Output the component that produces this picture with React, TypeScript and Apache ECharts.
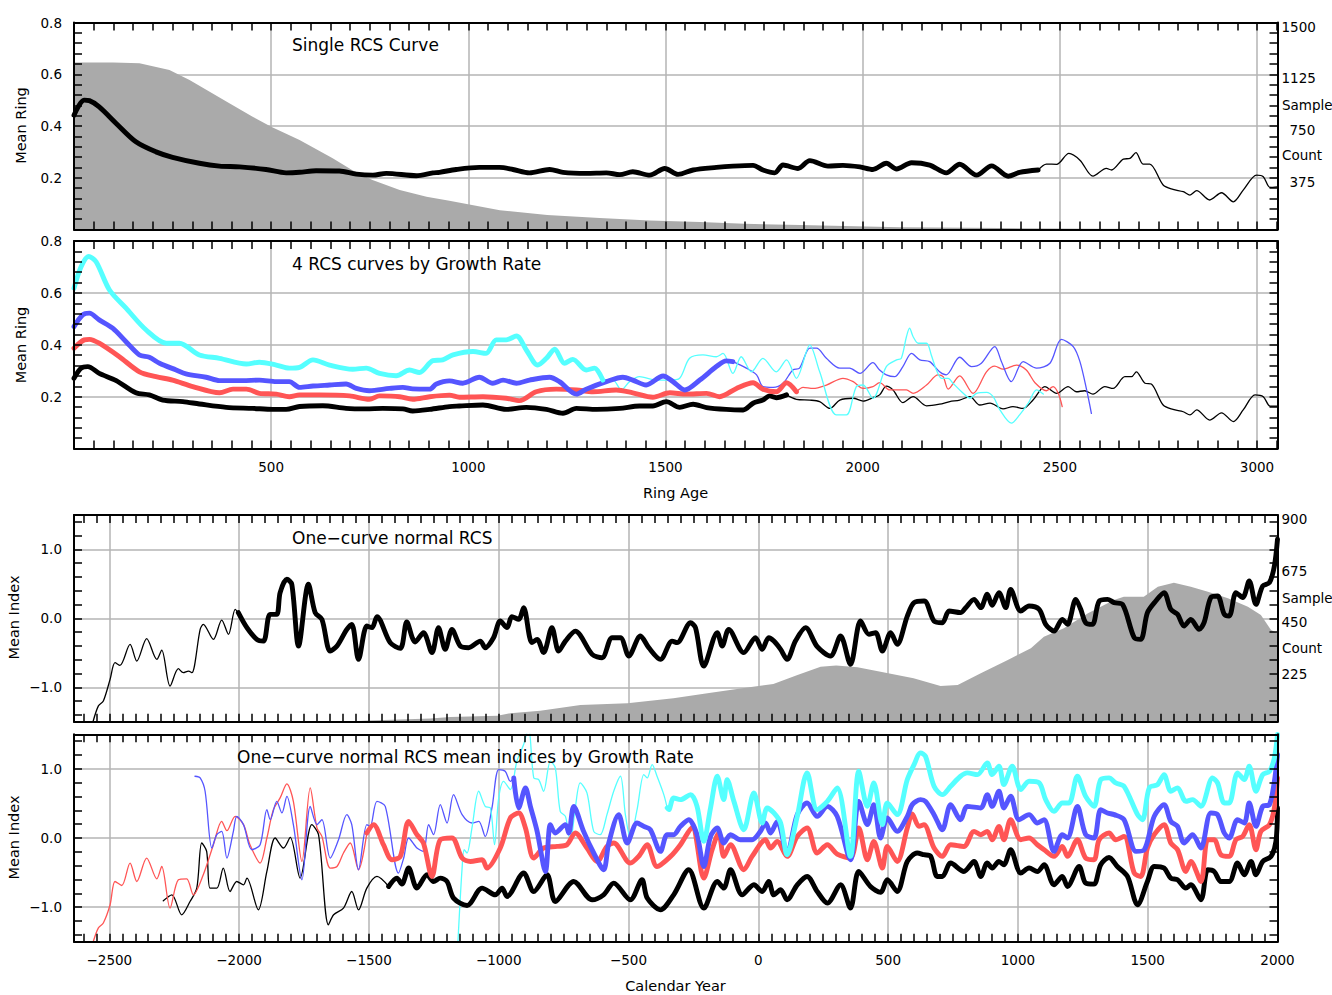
import React, { useEffect, useRef } from 'react';
import * as echarts from 'echarts';

// ---------- axes ----------
const AGE_MAX = 3052;
const YEAR_MIN = -2636;
const YEAR_MAX = 2000;

const ringAgeLabels = [500, 1000, 1500, 2000, 2500, 3000];
const calendarLabels = [-2500, -2000, -1500, -1000, -500, 0, 500, 1000, 1500, 2000];
const meanRingLabels = [0.2, 0.4, 0.6, 0.8];
const meanIndexLabels = [-1, 0, 1];
const ringSampleLabels = [375, 750, 1125, 1500];
const yearSampleLabels = [225, 450, 675, 900];

// ---------- panel 1: single RCS curve (ring age, mean ring) ----------
const ringSampleCount = [[0,1211],[100,1210],[166,1204],[242,1156],[293,1083],[394,914],[453,817],[500,745],[572,648],[656,517],[706,430],[757,358],[826,286],[894,237],[952,208],[1080,140],[1200,105],[1333,83],[1460,66],[1587,54],[1700,42],[1841,32],[2094,17],[2348,10],[2600,6],[2800,4],[3052,2]];

const singleCurveMain = [[0,0.442],[26,0.50],[39,0.498],[64,0.474],[107,0.41],[157,0.339],[208,0.30],[250,0.279],[318,0.256],[369,0.245],[420,0.242],[487,0.232],[538,0.219],[572,0.221],[614,0.227],[673,0.226],[716,0.214],[758,0.210],[792,0.217],[868,0.208],[910,0.219],[927,0.221],[969,0.232],[1028,0.240],[1079,0.240],[1113,0.232],[1155,0.219],[1206,0.232],[1240,0.221],[1299,0.217],[1350,0.219],[1384,0.212],[1417,0.223],[1460,0.210],[1498,0.236],[1532,0.213],[1570,0.230],[1629,0.240],[1671,0.245],[1722,0.248],[1747,0.230],[1777,0.219],[1798,0.249],[1836,0.236],[1866,0.266],[1912,0.245],[1950,0.248],[1993,0.242],[2026,0.232],[2060,0.256],[2086,0.234],[2124,0.258],[2170,0.249],[2212,0.219],[2246,0.252],[2289,0.210],[2327,0.246],[2369,0.206],[2398,0.221],[2445,0.230]];
const singleCurveTail = [[2445,0.230],[2466,0.253],[2492,0.252],[2523,0.294],[2551,0.268],[2584,0.206],[2618,0.236],[2631,0.230],[2661,0.272],[2678,0.275],[2693,0.297],[2711,0.253],[2728,0.253],[2762,0.172],[2787,0.155],[2813,0.146],[2830,0.133],[2847,0.150],[2880,0.114],[2910,0.142],[2940,0.107],[2965,0.152],[2999,0.210],[3016,0.204],[3033,0.163],[3052,0.165]];

// ---------- panel 2: four RCS curves by growth rate ----------
const fastMain = [[0,0.618],[18,0.701],[37,0.740],[56,0.720],[90,0.611],[132,0.541],[183,0.457],[234,0.406],[267,0.406],[318,0.361],[369,0.348],[437,0.326],[470,0.333],[513,0.322],[546,0.310],[572,0.313],[606,0.342],[648,0.322],[707,0.306],[741,0.310],[775,0.290],[817,0.281],[851,0.303],[876,0.293],[910,0.339],[935,0.342],[961,0.361],[1012,0.374],[1045,0.367],[1071,0.419],[1096,0.419],[1122,0.434],[1147,0.380],[1176,0.322],[1198,0.348],[1219,0.383],[1244,0.329],[1265,0.344],[1299,0.303],[1320,0.310],[1341,0.264]];
const fastTail = [[1341,0.264],[1367,0.264],[1388,0.226],[1409,0.258],[1434,0.277],[1477,0.264],[1511,0.264],[1536,0.271],[1561,0.348],[1595,0.361],[1629,0.354],[1646,0.367],[1671,0.290],[1692,0.354],[1718,0.296],[1747,0.348],[1781,0.296],[1807,0.342],[1832,0.271],[1866,0.399],[1891,0.296],[1933,0.130],[1959,0.130],[1984,0.239],[2001,0.245],[2026,0.194],[2060,0.316],[2086,0.342],[2098,0.348],[2111,0.431],[2119,0.464],[2128,0.431],[2141,0.406],[2162,0.406],[2174,0.361],[2187,0.303],[2200,0.271],[2217,0.271],[2229,0.252],[2255,0.213],[2272,0.194],[2289,0.213],[2314,0.217],[2331,0.200],[2348,0.149],[2377,0.098],[2398,0.130],[2420,0.175],[2441,0.226],[2458,0.210]];

const upperMain = [[0,0.470],[22,0.515],[39,0.522],[64,0.496],[98,0.464],[132,0.412],[166,0.361],[191,0.352],[217,0.329],[259,0.303],[284,0.288],[335,0.275],[369,0.262],[428,0.262],[470,0.264],[513,0.258],[546,0.258],[572,0.236],[606,0.241],[648,0.245],[690,0.249],[716,0.232],[749,0.223],[800,0.232],[834,0.236],[859,0.230],[902,0.229],[919,0.249],[952,0.261],[986,0.252],[1028,0.275],[1062,0.252],[1088,0.264],[1122,0.252],[1155,0.264],[1206,0.275],[1231,0.258],[1274,0.210],[1299,0.229],[1350,0.258],[1392,0.275],[1417,0.264],[1451,0.245],[1494,0.280],[1519,0.258],[1549,0.226],[1587,0.264],[1629,0.316],[1654,0.338],[1671,0.335]];
const upperTail = [[1671,0.335],[1705,0.310],[1731,0.284],[1747,0.239],[1773,0.236],[1798,0.252],[1823,0.303],[1840,0.310],[1866,0.387],[1883,0.387],[1908,0.348],[1942,0.310],[1967,0.310],[1993,0.290],[2026,0.331],[2043,0.303],[2060,0.284],[2081,0.277],[2102,0.316],[2124,0.367],[2145,0.342],[2170,0.335],[2195,0.296],[2212,0.284],[2246,0.352],[2276,0.316],[2301,0.329],[2335,0.393],[2352,0.335],[2377,0.258],[2407,0.335],[2441,0.310],[2475,0.329],[2504,0.421],[2534,0.393],[2551,0.335],[2568,0.226],[2580,0.136]];

const lowerMain = [[0,0.387],[26,0.419],[39,0.421],[64,0.406],[115,0.354],[166,0.296],[208,0.277],[250,0.264],[301,0.239],[369,0.215],[403,0.229],[437,0.229],[470,0.213],[513,0.210],[546,0.200],[572,0.207],[623,0.207],[699,0.203],[749,0.190],[775,0.203],[826,0.200],[859,0.190],[902,0.200],[952,0.206],[977,0.198],[1037,0.200],[1096,0.194],[1130,0.185],[1172,0.219],[1223,0.229],[1274,0.226],[1316,0.219],[1375,0.226],[1417,0.215],[1468,0.198],[1511,0.215],[1553,0.210],[1604,0.213],[1637,0.200],[1680,0.232],[1722,0.254],[1747,0.229],[1781,0.219],[1807,0.254],[1832,0.219]];
const lowerTail = [[1832,0.219],[1849,0.236],[1874,0.232],[1908,0.245],[1950,0.271],[1976,0.258],[2001,0.232],[2026,0.239],[2043,0.254],[2069,0.226],[2111,0.226],[2128,0.213],[2162,0.245],[2191,0.284],[2204,0.277],[2217,0.229],[2246,0.280],[2280,0.213],[2314,0.296],[2335,0.318],[2356,0.306],[2390,0.322],[2415,0.303],[2437,0.254],[2466,0.223],[2483,0.239],[2496,0.213],[2506,0.162]];

const slowMain = [[0,0.271],[18,0.310],[35,0.316],[64,0.290],[107,0.262],[157,0.215],[191,0.207],[225,0.187],[276,0.181],[318,0.172],[386,0.159],[453,0.155],[504,0.151],[538,0.151],[572,0.162],[631,0.165],[690,0.155],[741,0.153],[783,0.155],[834,0.153],[859,0.145],[902,0.151],[952,0.162],[977,0.164],[1037,0.168],[1096,0.151],[1147,0.159],[1198,0.151],[1240,0.136],[1274,0.155],[1325,0.151],[1384,0.155],[1434,0.164],[1468,0.164],[1502,0.181],[1536,0.159],[1570,0.171],[1604,0.158],[1654,0.151],[1697,0.149],[1722,0.175],[1747,0.187],[1764,0.203],[1781,0.196],[1807,0.207]];
const slowTail = [[1807,0.207],[1832,0.190],[1866,0.187],[1891,0.181],[1917,0.155],[1942,0.187],[1976,0.194],[2001,0.183],[2026,0.196],[2043,0.207],[2060,0.241],[2077,0.226],[2102,0.177],[2128,0.200],[2162,0.165],[2195,0.171],[2221,0.181],[2246,0.187],[2272,0.200],[2297,0.168],[2323,0.175],[2356,0.153],[2381,0.162],[2407,0.155],[2432,0.187],[2462,0.239],[2492,0.213],[2521,0.239],[2542,0.219],[2563,0.223],[2584,0.210],[2614,0.239],[2635,0.232],[2665,0.277],[2682,0.277],[2694,0.296],[2716,0.252],[2732,0.249],[2762,0.168],[2787,0.151],[2813,0.142],[2830,0.130],[2847,0.149],[2880,0.110],[2910,0.138],[2940,0.104],[2965,0.149],[2995,0.207],[3016,0.200],[3033,0.164],[3052,0.164]];

// ---------- panel 3: one-curve RCS chronology (calendar year, index) ----------
const yearSampleCount = [[-1600,0],[-1500,5],[-1380,10],[-1263,14],[-1187,20],[-1005,26],[-955,37],[-840,48],[-685,73],[-504,80],[-327,102],[-196,124],[-69,145],[58,164],[151,203],[240,239],[300,245],[382,237],[471,218],[598,189],[702,155],[768,160],[857,211],[961,269],[1050,320],[1100,370],[1177,407],[1270,472],[1370,530],[1408,544],[1485,544],[1539,588],[1601,605],[1666,588],[1732,566],[1809,537],[1886,501],[1936,465],[1975,399],[2000,385]];

const chronoEarly = [[-2562,-1.49],[-2542,-1.27],[-2523,-1.20],[-2497,-0.886],[-2478,-0.644],[-2459,-0.683],[-2420,-0.378],[-2394,-0.620],[-2356,-0.295],[-2317,-0.596],[-2298,-0.460],[-2266,-0.983],[-2234,-0.731],[-2215,-0.789],[-2195,-0.765],[-2182,-0.789],[-2150,-0.160],[-2138,-0.087],[-2099,-0.305],[-2067,-0.025],[-2041,-0.232],[-2015,0.131],[-2003,0.083]];
const chronoMain = [[-2003,0.083],[-1970,-0.135],[-1932,-0.305],[-1906,-0.330],[-1881,0.058],[-1855,0.058],[-1842,0.373],[-1816,0.567],[-1797,0.494],[-1771,-0.402],[-1733,0.494],[-1707,0.083],[-1681,-0.015],[-1649,-0.475],[-1623,-0.402],[-1585,-0.160],[-1566,-0.087],[-1540,-0.596],[-1508,-0.112],[-1488,-0.135],[-1469,0.025],[-1418,-0.353],[-1379,-0.436],[-1354,-0.054],[-1322,-0.344],[-1290,-0.208],[-1257,-0.498],[-1232,-0.135],[-1206,-0.450],[-1180,-0.160],[-1148,-0.402],[-1116,-0.426],[-1071,-0.330],[-1052,-0.426],[-1020,-0.281],[-994,-0.039],[-968,-0.135],[-949,0.025],[-923,-0.015],[-904,0.155],[-872,-0.353],[-852,-0.305],[-827,-0.498],[-795,-0.135],[-769,-0.475],[-743,-0.330],[-705,-0.185],[-640,-0.523],[-602,-0.571],[-563,-0.281],[-531,-0.281],[-499,-0.547],[-454,-0.257],[-422,-0.426],[-377,-0.596],[-332,-0.330],[-313,-0.353],[-261,-0.063],[-242,-0.135],[-210,-0.692],[-158,-0.208],[-139,-0.402],[-114,-0.160],[-56,-0.498],[-11,-0.281],[15,-0.450],[40,-0.281],[60,-0.330],[86,-0.450],[111,-0.596],[143,-0.330],[182,-0.135],[227,-0.411],[278,-0.547],[317,-0.257],[355,-0.668],[394,-0.039],[426,-0.232],[452,-0.208],[478,-0.475],[510,-0.208],[535,-0.378],[574,0.033],[600,0.228],[639,0.251],[677,-0.039],[709,-0.063],[735,0.106],[779,0.083],[799,0.155],[831,0.276],[857,0.155],[882,0.349],[901,0.189],[927,0.373],[953,0.155],[972,0.421],[1011,0.106],[1043,0.179],[1082,0.131],[1107,-0.087],[1139,-0.185],[1171,-0.015],[1191,-0.087],[1223,0.276],[1242,0.131],[1261,-0.063],[1287,-0.087],[1313,0.251],[1345,0.276],[1371,0.228],[1403,0.203],[1448,-0.281],[1473,-0.305],[1499,0.083],[1531,0.251],[1563,0.373],[1589,0.131],[1615,0.058],[1640,-0.112],[1666,-0.015],[1698,-0.160],[1717,-0.063],[1743,0.301],[1769,0.324],[1795,0.058],[1814,0.033],[1840,0.373],[1866,0.301],[1891,0.542],[1917,0.203],[1943,0.469],[1969,0.519],[1988,0.760],[2000,1.148]];

// ---------- panel 4: one-curve RCS indices by growth rate ----------
const slowIdxEarly = [[-2292,-0.909],[-2259,-0.822],[-2221,-1.111],[-2189,-0.919],[-2163,-0.725],[-2144,-0.072],[-2125,-0.194],[-2112,-0.725],[-2086,-0.725],[-2061,-0.435],[-2035,-0.774],[-2009,-0.629],[-1983,-0.677],[-1970,-0.580],[-1926,-1.039],[-1893,-0.484],[-1861,0.0],[-1829,-0.145],[-1803,0.009],[-1765,-0.580],[-1720,0.193],[-1694,0.048],[-1656,-1.256],[-1636,-1.111],[-1598,-1.014],[-1566,-0.774],[-1540,-1.039],[-1508,-0.725],[-1469,-0.556],[-1424,-0.701]];
const slowIdxMain = [[-1424,-0.701],[-1392,-0.580],[-1373,-0.667],[-1347,-0.435],[-1315,-0.725],[-1276,-0.532],[-1251,-0.629],[-1225,-0.580],[-1199,-0.629],[-1174,-0.869],[-1122,-0.977],[-1064,-0.725],[-1013,-0.822],[-987,-0.725],[-968,-0.846],[-904,-0.507],[-865,-0.774],[-814,-0.532],[-782,-0.919],[-711,-0.629],[-640,-0.894],[-596,-0.822],[-557,-0.652],[-493,-0.894],[-448,-0.604],[-428,-0.869],[-377,-1.039],[-326,-0.822],[-268,-0.459],[-210,-1.014],[-158,-0.629],[-133,-0.725],[-107,-0.459],[-62,-0.822],[-17,-0.677],[15,-0.774],[40,-0.629],[60,-0.822],[86,-0.749],[111,-0.894],[150,-0.677],[188,-0.556],[227,-0.774],[266,-0.942],[317,-0.677],[355,-1.014],[387,-0.484],[432,-0.701],[471,-0.786],[497,-0.604],[535,-0.774],[574,-0.339],[612,-0.217],[638,-0.242],[664,-0.266],[689,-0.556],[709,-0.556],[741,-0.362],[792,-0.484],[831,-0.339],[857,-0.556],[882,-0.362],[901,-0.435],[927,-0.339],[946,-0.387],[972,-0.170],[1011,-0.507],[1043,-0.435],[1075,-0.484],[1101,-0.387],[1139,-0.677],[1171,-0.556],[1191,-0.701],[1236,-0.412],[1261,-0.652],[1293,-0.667],[1319,-0.387],[1351,-0.281],[1383,-0.412],[1422,-0.556],[1461,-0.967],[1499,-0.629],[1525,-0.412],[1563,-0.435],[1589,-0.580],[1615,-0.604],[1647,-0.725],[1666,-0.677],[1705,-0.894],[1731,-0.459],[1756,-0.484],[1782,-0.629],[1814,-0.629],[1846,-0.362],[1872,-0.532],[1898,-0.339],[1917,-0.532],[1943,-0.339],[1975,-0.266],[1994,-0.049],[2000,0.435]];

const lowerIdxEarly = [[-2562,-1.50],[-2542,-1.30],[-2523,-1.23],[-2497,-0.966],[-2478,-0.629],[-2452,-0.687],[-2420,-0.362],[-2394,-0.629],[-2356,-0.290],[-2317,-0.590],[-2298,-0.412],[-2266,-1.014],[-2234,-0.604],[-2202,-0.590],[-2176,-0.822],[-2138,-0.532],[-2099,-0.097],[-2067,0.241],[-2047,0.106],[-2015,0.313],[-1983,0.193],[-1958,-0.097],[-1919,-0.362],[-1893,0.0],[-1868,0.410],[-1842,0.580],[-1816,0.783],[-1791,0.530],[-1758,-0.339],[-1726,0.725],[-1700,0.145],[-1681,0.023],[-1649,-0.435],[-1623,-0.412],[-1598,-0.217],[-1572,-0.072],[-1540,-0.459],[-1508,0.072]];
const lowerIdxMain = [[-1508,0.072],[-1482,0.193],[-1444,-0.097],[-1411,-0.314],[-1379,-0.266],[-1347,0.241],[-1315,0.048],[-1290,-0.072],[-1257,-0.556],[-1225,-0.025],[-1180,0.0],[-1141,-0.290],[-1109,-0.339],[-1064,-0.314],[-1045,-0.435],[-994,-0.145],[-955,0.290],[-923,0.362],[-897,0.145],[-865,-0.290],[-827,-0.145],[-775,-0.122],[-737,-0.097],[-705,0.072],[-660,-0.145],[-621,-0.339],[-583,-0.122],[-557,-0.072],[-493,-0.362],[-461,-0.266],[-428,-0.097],[-390,-0.412],[-338,-0.266],[-300,-0.097],[-255,0.154],[-210,-0.580],[-178,-0.170],[-152,0.072],[-133,-0.266],[-107,-0.097],[-56,-0.459],[-24,-0.266],[28,-0.025],[47,-0.145],[73,-0.049],[111,-0.266],[150,0.023],[188,0.145],[227,-0.217],[266,-0.097],[304,-0.232],[355,-0.290],[387,0.145],[420,-0.314],[445,-0.049],[478,-0.435],[497,-0.122],[535,-0.339],[574,0.145],[593,0.348],[619,0.168],[638,0.193],[677,-0.145],[709,-0.266],[741,-0.097],[792,-0.122],[831,0.096],[857,0.048],[882,0.096],[901,-0.025],[927,0.168],[946,-0.025],[972,0.265],[1011,-0.025],[1043,0.0],[1075,-0.097],[1101,-0.170],[1139,-0.266],[1171,-0.122],[1191,-0.266],[1229,-0.025],[1261,-0.290],[1293,-0.314],[1313,-0.025],[1351,0.072],[1377,-0.025],[1409,0.023],[1448,-0.507],[1473,-0.556],[1499,-0.145],[1525,0.048],[1563,0.193],[1589,-0.072],[1615,-0.170],[1647,-0.484],[1666,-0.339],[1705,-0.629],[1731,-0.025],[1756,-0.025],[1782,-0.242],[1814,-0.266],[1840,-0.025],[1866,0.023],[1891,0.193],[1917,-0.170],[1936,0.096],[1969,0.193],[1988,0.435],[2000,0.869]];

const upperIdxEarly = [[-2170,0.893],[-2150,0.869],[-2131,0.676],[-2105,-0.145],[-2086,0.048],[-2067,0.096],[-2047,-0.290],[-2022,0.096],[-2009,0.313],[-1983,0.193],[-1951,-0.170],[-1919,-0.097],[-1893,0.410],[-1880,0.265],[-1855,0.530],[-1835,0.362],[-1816,0.603],[-1791,0.193],[-1758,-0.604],[-1726,0.458],[-1700,0.193],[-1681,0.265],[-1649,-0.290],[-1617,-0.025],[-1585,0.338],[-1566,0.193],[-1540,-0.459],[-1508,0.193],[-1495,0.168],[-1469,0.530],[-1437,0.458],[-1386,-0.507],[-1366,-0.290],[-1347,0.0],[-1315,-0.145],[-1290,-0.194],[-1270,0.193],[-1251,0.048],[-1225,0.483],[-1199,0.217],[-1174,0.627],[-1141,0.338],[-1103,0.217],[-1077,0.241],[-1052,0.023],[-1026,0.435],[-1000,0.990],[-975,0.965],[-955,0.820],[-942,0.869]];
const upperIdxMain = [[-942,0.869],[-923,0.435],[-897,0.725],[-878,0.458],[-852,0.096],[-820,-0.484],[-801,0.193],[-782,0.072],[-743,0.193],[-730,0.072],[-711,0.458],[-673,0.096],[-634,-0.217],[-596,-0.459],[-576,-0.072],[-538,0.338],[-505,-0.072],[-467,0.217],[-441,0.168],[-416,0.120],[-377,-0.194],[-351,0.048],[-326,0.048],[-300,0.168],[-268,0.265],[-236,0.048],[-210,-0.412],[-184,0.023],[-158,0.145],[-133,-0.072],[-107,0.048],[-69,-0.025],[-24,-0.025],[8,0.096],[28,0.217],[47,0.072],[73,0.241],[111,-0.217],[150,0.338],[188,0.507],[227,0.313],[266,0.458],[304,0.313],[355,-0.314],[387,0.530],[420,0.193],[445,0.483],[471,0.0],[497,0.290],[535,0.096],[574,0.313],[593,0.483],[625,0.555],[644,0.530],[677,0.338],[709,0.120],[741,0.483],[779,0.265],[805,0.458],[857,0.435],[882,0.627],[901,0.458],[927,0.676],[946,0.435],[972,0.603],[1004,0.265],[1043,0.338],[1075,0.217],[1101,0.265],[1139,-0.194],[1171,0.048],[1191,0.0],[1229,0.458],[1261,0.048],[1293,0.0],[1319,0.410],[1345,0.362],[1371,0.338],[1409,0.265],[1455,-0.194],[1487,-0.170],[1525,0.313],[1563,0.483],[1589,0.241],[1615,0.168],[1640,-0.072],[1673,0.048],[1705,-0.145],[1743,0.362],[1769,0.338],[1795,0.072],[1814,0.0],[1846,0.265],[1872,0.217],[1891,0.507],[1917,0.168],[1943,0.458],[1969,0.483],[1988,0.820],[2000,1.207]];

const fastIdxEarly = [[-1157,-1.5],[-1141,-0.435],[-1133,-0.170],[-1122,-0.217],[-1103,0.145],[-1077,0.676],[-1052,0.458],[-1032,0.435],[-1016,-0.097],[-1000,0.580],[-981,0.820],[-955,0.700],[-930,1.110],[-904,1.352],[-885,1.6],[-865,0.869],[-846,0.845],[-827,0.676],[-801,1.110],[-782,1.014],[-763,0.385],[-743,0.313],[-724,-0.049],[-705,0.435],[-686,0.797],[-660,0.652],[-634,0.096],[-609,0.048],[-583,0.338],[-557,0.676],[-531,0.893],[-512,0.338],[-493,0.0],[-467,0.410],[-441,0.917],[-428,0.869],[-409,1.062],[-390,0.893],[-364,0.627],[-351,0.435]];
const fastIdxMain = [[-351,0.435],[-345,0.410],[-326,0.580],[-300,0.555],[-261,0.627],[-236,0.458],[-210,-0.049],[-184,0.435],[-158,0.893],[-133,0.555],[-120,0.845],[-94,0.530],[-56,0.120],[-17,0.652],[15,0.217],[34,0.435],[60,0.362],[86,0.217],[111,-0.242],[150,0.313],[188,0.942],[227,0.410],[266,0.530],[304,0.725],[355,-0.266],[387,0.965],[420,0.458],[445,0.797],[478,0.193],[497,0.507],[535,0.338],[574,0.845],[600,1.062],[625,1.231],[644,1.182],[677,0.748],[709,0.627],[741,0.748],[779,0.893],[805,0.942],[844,0.917],[882,1.087],[901,0.917],[927,1.038],[946,0.772],[978,1.038],[1011,0.700],[1043,0.820],[1082,0.797],[1107,0.555],[1139,0.385],[1171,0.507],[1197,0.507],[1229,0.893],[1261,0.603],[1293,0.458],[1319,0.845],[1351,0.869],[1377,0.797],[1409,0.748],[1461,0.338],[1480,0.265],[1506,0.725],[1538,0.772],[1563,0.917],[1589,0.676],[1615,0.725],[1647,0.530],[1673,0.555],[1705,0.458],[1750,0.869],[1769,0.797],[1795,0.507],[1814,0.507],[1846,0.942],[1872,0.845],[1891,1.038],[1917,0.676],[1943,0.917],[1969,0.965],[1988,1.159],[2000,1.497]];

// ---------- styling ----------
const FONT = '"DejaVu Sans", Verdana, sans-serif';
const GRID_GRAY = '#b4b4b4';
const AREA_GRAY = '#aaaaaa';
const CYAN = '#55ffff';
const BLUE = '#5555ff';
const RED = '#ff5555';
const BLACK = '#000000';
const THICK = 4.9;
const THIN = 1.3;

const LEFT = 74;
const RIGHT = 54.5;
const PANELS = [
  { top: 22.5, height: 207 },
  { top: 241, height: 207.6 },
  { top: 515, height: 206.7 },
  { top: 734.3, height: 207.4 },
];

const has = (list: number[], v: number) => list.some((t) => Math.abs(t - v) < 1e-6);
const signed = (s: string) => s.replace('-', '\u2212');
const fmtInt = (v: number) => signed(String(Math.round(v)));
const fmtDec = (v: number) => signed((Math.abs(v) < 1e-9 ? 0 : v).toFixed(1));

function buildOption() {
  const grid = PANELS.map((p) => ({ left: LEFT, right: RIGHT, top: p.top, height: p.height, show: false }));
  const xAxis: any[] = [];
  const yAxis: any[] = [];
  const mainX: number[] = [];
  const mainY: number[] = [];
  const countY: Record<number, number> = {};

  const labelStyle = { color: '#000', fontSize: 13.5, fontFamily: FONT };
  const frameLine = { show: true, onZero: false, lineStyle: { color: '#000', width: 2 } };
  const innerTick = { show: true, inside: true, length: 8, lineStyle: { color: '#000', width: 1.5 } };

  PANELS.forEach((_p, g) => {
    const ringAge = g < 2;
    const xRange = ringAge ? { min: 0, max: AGE_MAX } : { min: YEAR_MIN, max: YEAR_MAX };
    const yRange = ringAge ? { min: 0, max: 0.8 } : { min: -1.5, max: 1.5 };

    // grid lines + year / age labels
    mainX[g] = xAxis.length;
    xAxis.push({
      type: 'value', gridIndex: g, ...xRange, position: 'bottom',
      ...(ringAge ? { interval: 500 } : { splitNumber: 9 }),
      axisLine: { show: false }, axisTick: { show: false },
      splitLine: { show: true, lineStyle: { color: GRID_GRAY, width: 1.5 } },
      axisLabel: {
        show: g === 1 || g === 3, margin: 11, ...labelStyle,
        formatter: (v: number) => (has(ringAge ? ringAgeLabels : calendarLabels, v) ? fmtInt(v) : ''),
      },
    });
    // frame and inward ticks, top and bottom
    for (const pos of ['bottom', 'top']) {
      xAxis.push({
        type: 'value', gridIndex: g, ...xRange, position: pos, z: 10,
        ...(ringAge ? { interval: 50 } : { splitNumber: 93 }),
        axisLine: frameLine, axisTick: innerTick,
        axisLabel: { show: false }, splitLine: { show: false },
      });
    }

    mainY[g] = yAxis.length;
    yAxis.push({
      type: 'value', gridIndex: g, ...yRange, position: 'left',
      ...(ringAge ? { interval: 0.2 } : { splitNumber: 3 }),
      axisLine: { show: false, onZero: false }, axisTick: { show: false },
      splitLine: { show: true, lineStyle: { color: GRID_GRAY, width: 1.5 } },
      axisLabel: {
        show: true, margin: 12, ...labelStyle,
        formatter: (v: number) => (has(ringAge ? meanRingLabels : meanIndexLabels, v) ? fmtDec(v) : ''),
      },
    });
    for (const pos of ['left', 'right']) {
      yAxis.push({
        type: 'value', gridIndex: g, ...yRange, position: pos, z: 10,
        ...(ringAge ? { interval: 0.04 } : { splitNumber: 15 }),
        axisLine: frameLine, axisTick: innerTick,
        axisLabel: { show: false }, splitLine: { show: false },
      });
    }
    if (g === 0 || g === 2) {
      const labels = g === 0 ? ringSampleLabels : yearSampleLabels;
      countY[g] = yAxis.length;
      yAxis.push({
        type: 'value', gridIndex: g, min: 0, max: g === 0 ? 1500 : 900, interval: g === 0 ? 375 : 225,
        position: 'right',
        axisLine: { show: false, onZero: false }, axisTick: { show: false }, splitLine: { show: false },
        axisLabel: {
          show: true, margin: 4, ...labelStyle, align: 'left', verticalAlign: 'middle', padding: [8, 0, 0, 0],
          formatter: (v: number) => {
            if (!has(labels, v)) return '';
            return g === 0 && v < 1000 ? `{i|${v}}` : `${v}`;
          },
          rich: { i: { padding: [0, 0, 0, 8], ...labelStyle } },
        },
      });
    }
  });

  const line = (g: number, data: number[][], color: string, width: number, z = 3) => ({
    type: 'line', xAxisIndex: mainX[g], yAxisIndex: mainY[g], data,
    symbol: 'none', showSymbol: false, smooth: 0.3, z, silent: true, clip: true,
    lineStyle: { color, width, cap: 'round', join: 'round' },
  });
  const area = (g: number, data: number[][]) => ({
    type: 'line', xAxisIndex: mainX[g], yAxisIndex: countY[g], data,
    symbol: 'none', showSymbol: false, z: 1, silent: true,
    lineStyle: { width: 0, color: AREA_GRAY }, areaStyle: { color: AREA_GRAY, opacity: 1 },
  });

  const series = [
    area(0, ringSampleCount),
    line(0, singleCurveTail, BLACK, THIN),
    line(0, singleCurveMain, BLACK, THICK, 4),

    line(1, slowTail, BLACK, THIN),
    line(1, lowerTail, RED, THIN),
    line(1, upperTail, BLUE, THIN),
    line(1, fastTail, CYAN, THIN),
    line(1, slowMain, BLACK, THICK, 4),
    line(1, lowerMain, RED, THICK, 4),
    line(1, upperMain, BLUE, THICK, 4),
    line(1, fastMain, CYAN, THICK, 4),

    area(2, yearSampleCount),
    line(2, chronoEarly, BLACK, THIN),
    line(2, chronoMain, BLACK, THICK, 4),

    line(3, slowIdxEarly, BLACK, THIN),
    line(3, lowerIdxEarly, RED, THIN),
    line(3, upperIdxEarly, BLUE, THIN),
    line(3, fastIdxEarly, CYAN, THIN),
    line(3, slowIdxMain, BLACK, THICK, 4),
    line(3, lowerIdxMain, RED, THICK, 4),
    line(3, upperIdxMain, BLUE, THICK, 4),
    line(3, fastIdxMain, CYAN, THICK, 4),
  ];

  const txt = (text: string, x: number, y: number, size: number, align = 'left') => ({
    type: 'text', x, y, silent: true, z: 20,
    style: { text, fill: '#000', font: `${size}px ${FONT}`, align, verticalAlign: 'middle' },
  });
  const vtxt = (text: string, x: number, y: number) => ({
    type: 'text', x, y, rotation: Math.PI / 2, silent: true, z: 20,
    style: { text, fill: '#000', font: `14.5px ${FONT}`, align: 'center', verticalAlign: 'middle' },
  });

  const graphic = [
    txt('Single RCS Curve', 292, 44.5, 17),
    txt('4 RCS curves by Growth Rate', 292, 264, 17),
    txt('One\u2212curve normal RCS', 292, 537.5, 17),
    txt('One\u2212curve normal RCS mean indices by Growth Rate', 237, 756.5, 17),
    vtxt('Mean Ring', 20.5, 125.5),
    vtxt('Mean Ring', 20.5, 345),
    vtxt('Mean Index', 13.5, 617.5),
    vtxt('Mean Index', 13.5, 837.5),
    txt('Ring Age', 675.5, 493, 14.5, 'center'),
    txt('Calendar Year', 675.5, 986, 14.5, 'center'),
    txt('Sample', 1282, 105, 13.5),
    txt('Count', 1282, 155, 13.5),
    txt('Sample', 1282, 598, 13.5),
    txt('Count', 1282, 648, 13.5),
  ];

  return {
    animation: false,
    backgroundColor: '#ffffff',
    textStyle: { fontFamily: FONT },
    grid,
    xAxis,
    yAxis,
    series,
    graphic,
  };
}

export default function App() {
  const ref = useRef<HTMLDivElement>(null);
  useEffect(() => {
    if (!ref.current) return;
    const chart = echarts.init(ref.current, null, { renderer: 'svg' });
    chart.setOption(buildOption() as any);
    return () => chart.dispose();
  }, []);
  return (
    <div
      ref={ref}
      style={{ position: 'absolute', left: 0, top: 0, width: 1332, height: 995, background: '#fff' }}
    />
  );
}
